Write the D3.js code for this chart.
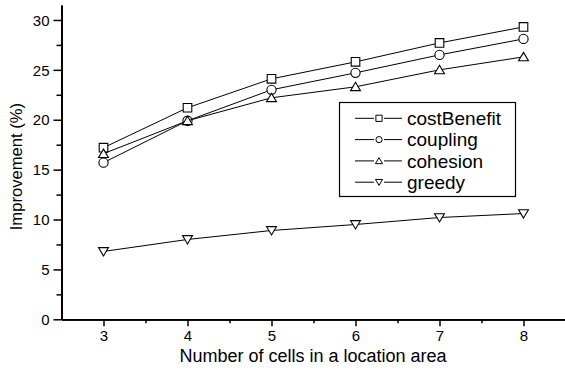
<!DOCTYPE html>
<html>
<head>
<meta charset="utf-8">
<script src="https://cdn.jsdelivr.net/npm/d3@7"></script>
<style>
  html, body { margin: 0; padding: 0; background: #fff; }
  svg { display: block; font-family: "Liberation Sans", Arial, Helvetica, sans-serif; }
</style>
</head>
<body>
<svg id="chart" width="565" height="370"></svg>
<script>
// Location-area size on the x axis
const cells = [3, 4, 5, 6, 7, 8];

// Improvement (%) for each strategy
const costBenefit = [17.2, 21.2, 24.1, 25.8, 27.7, 29.3];
const coupling    = [15.7, 19.9, 23.0, 24.7, 26.5, 28.1];
const cohesion    = [16.6, 19.9, 22.2, 23.3, 25.0, 26.3];
const greedy      = [6.8, 8.0, 8.9, 9.5, 10.2, 10.6];

const seriesNames = ["costBenefit", "coupling", "cohesion", "greedy"];
const seriesMarks = ["square", "circle", "triangleUp", "triangleDown"];
const seriesValues = [costBenefit, coupling, cohesion, greedy];

const yMajorTicks = [0, 5, 10, 15, 20, 25, 30];
const yMinorTicks = [2.5, 7.5, 12.5, 17.5, 22.5, 27.5];
const xMinorTicks = [3.5, 4.5, 5.5, 6.5, 7.5];

const xTitle = "Number of cells in a location area";
const yTitle = "Improvement (%)";

const svg = d3.select("#chart");

const x = d3.scaleLinear().domain([2.5, 8.5]).range([61.5, 565.5]);
const y = d3.scaleLinear().domain([0, 31.5]).range([319.3, 5]);

// marker shapes, r = half-size
function markerPath(type, r) {
  const p = d3.path();
  if (type === "square") {
    p.rect(-r, -r, 2 * r, 2 * r);
  } else if (type === "circle") {
    p.arc(0, 0, r, 0, 2 * Math.PI);
  } else if (type === "triangleUp") {
    const h = r * 1.05;
    p.moveTo(0, -h); p.lineTo(r * 1.15, h * 0.85); p.lineTo(-r * 1.15, h * 0.85); p.closePath();
  } else {
    const h = r * 1.05;
    p.moveTo(0, h); p.lineTo(r * 1.15, -h * 0.85); p.lineTo(-r * 1.15, -h * 0.85); p.closePath();
  }
  return p.toString();
}

// axes
const xAxis = svg.append("g").attr("transform", `translate(0,${y(0)})`)
  .call(d3.axisBottom(x).tickValues(cells).tickFormat(d3.format("d")).tickSize(7).tickSizeOuter(0));
const xMinor = svg.append("g").attr("transform", `translate(0,${y(0)})`)
  .call(d3.axisBottom(x).tickValues(xMinorTicks).tickFormat("").tickSize(4).tickSizeOuter(0));
const yAxis = svg.append("g").attr("transform", `translate(${x(2.5)},0)`)
  .call(d3.axisLeft(y).tickValues(yMajorTicks).tickSize(8).tickSizeOuter(0));
const yMinor = svg.append("g").attr("transform", `translate(${x(2.5)},0)`)
  .call(d3.axisLeft(y).tickValues(yMinorTicks).tickFormat("").tickSize(5).tickSizeOuter(0));

[xAxis, xMinor, yAxis, yMinor].forEach(g => {
  g.select(".domain").attr("stroke", "#000").attr("stroke-width", 1.8);
  g.selectAll(".tick line").attr("stroke", "#000").attr("stroke-width", 1.5);
  g.selectAll(".tick text").attr("fill", "#000").attr("font-size", 15)
    .attr("font-family", "'Liberation Sans', Arial, sans-serif");
});
xAxis.selectAll(".tick text").attr("dy", "0.72em").attr("y", 11);
yAxis.selectAll(".tick text").attr("x", -12).attr("dy", "0.35em");

// axis titles
svg.append("text")
  .attr("x", (178 + 448) / 2).attr("y", 362)
  .attr("text-anchor", "middle").attr("font-size", 18).attr("fill", "#000")
  .text(xTitle);
svg.append("text")
  .attr("transform", `translate(22,${y(15.3)}) rotate(-90)`)
  .attr("text-anchor", "middle").attr("font-size", 16.6).attr("fill", "#000")
  .text(yTitle);

// series
const line = d3.line().x((d, i) => x(cells[i])).y(d => y(d));
seriesValues.forEach((vals, s) => {
  svg.append("path").datum(vals)
    .attr("d", line).attr("fill", "none").attr("stroke", "#000").attr("stroke-width", 1);
  svg.append("g").selectAll("path").data(vals).join("path")
    .attr("transform", (d, i) => `translate(${x(cells[i])},${y(d)})`)
    .attr("d", markerPath(seriesMarks[s], s === 1 ? 4.6 : 4.3))
    .attr("fill", "#fff").attr("stroke", "#000").attr("stroke-width", 1.1);
});

// legend
const legend = svg.append("g");
legend.append("rect")
  .attr("x", 339.5).attr("y", 102.5).attr("width", 176).attr("height", 94)
  .attr("fill", "#fff").attr("stroke", "#000").attr("stroke-width", 1.2);
const rowY = [118.3, 139.6, 160.9, 182.2];
seriesNames.forEach((name, s) => {
  const row = legend.append("g").attr("transform", `translate(0,${rowY[s]})`);
  row.append("line").attr("x1", 355).attr("x2", 374).attr("stroke", "#000").attr("stroke-width", 1);
  row.append("line").attr("x1", 384).attr("x2", 402).attr("stroke", "#000").attr("stroke-width", 1);
  row.append("path").attr("transform", "translate(379,0)")
    .attr("d", markerPath(seriesMarks[s], 3.1))
    .attr("fill", "#fff").attr("stroke", "#000").attr("stroke-width", 1);
  row.append("text").attr("x", 407).attr("dy", "0.35em")
    .attr("font-size", 19).attr("fill", "#000").text(name);
});
</script>
</body>
</html>
